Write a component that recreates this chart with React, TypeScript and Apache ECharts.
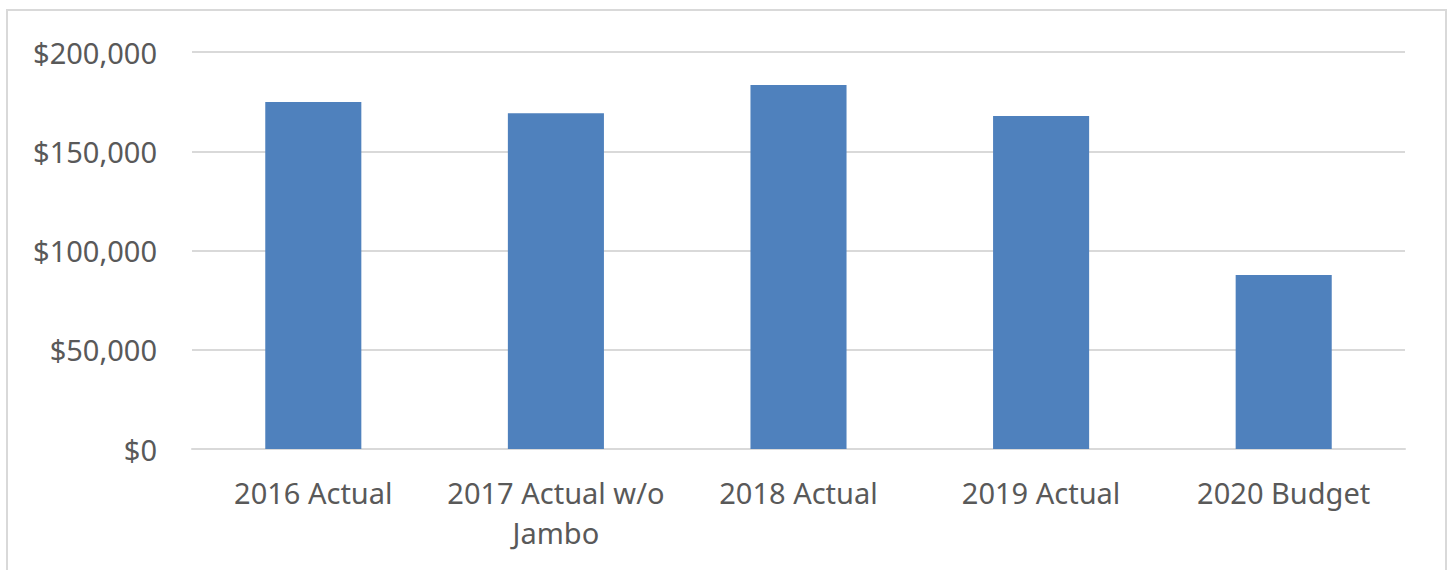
import React, { useEffect, useRef } from "react";
import * as echarts from "echarts";

const categories = ["2016 Actual", "2017 Actual w/o\nJambo", "2018 Actual", "2019 Actual", "2020 Budget"];
const values = [174800, 169200, 183400, 167800, 87700];
const yTicks = { min: 0, max: 200000, interval: 50000 };

export default function App() {
  const ref = useRef<HTMLDivElement>(null);
  useEffect(() => {
    if (!ref.current) return;
    const chart = echarts.init(ref.current, undefined, { renderer: "svg" });
    chart.setOption({
      animation: false,
      backgroundColor: "#ffffff",
      textStyle: { fontFamily: "Noto Sans" },
      graphic: [
        {
          type: "rect",
          shape: { x: 7, y: 10, width: 1439, height: 620 },
          style: { fill: "none", stroke: "#d9d9d9", lineWidth: 2 },
          silent: true,
        },
      ],
      grid: { left: 192, right: 43, top: 52, bottom: 121, containLabel: false },
      xAxis: {
        type: "category",
        data: categories,
        axisLine: { show: true, lineStyle: { color: "#d9d9d9", width: 2 } },
        axisTick: { show: false },
        axisLabel: {
          color: "#595959",
          fontSize: 29,
          fontFamily: "Noto Sans",
          lineHeight: 40,
          margin: 23,
          interval: 0,
        },
      },
      yAxis: {
        type: "value",
        min: yTicks.min,
        max: yTicks.max,
        interval: yTicks.interval,
        axisLine: { show: false },
        axisTick: { show: false },
        splitLine: { lineStyle: { color: "#d9d9d9", width: 2 } },
        axisLabel: {
          color: "#595959",
          fontSize: 29,
          fontFamily: "Noto Sans",
          margin: 35,
          formatter: (v: number) => "$" + v.toLocaleString("en-US"),
        },
      },
      series: [
        {
          type: "bar",
          data: values,
          barWidth: "39.6%",
          itemStyle: { color: "#4f81bd" },
        },
      ],
    });
    return () => chart.dispose();
  }, []);
  return (
    <div
      ref={ref}
      style={{ position: "fixed", left: 0, top: 0, width: 1448, height: 570 }}
    />
  );
}
